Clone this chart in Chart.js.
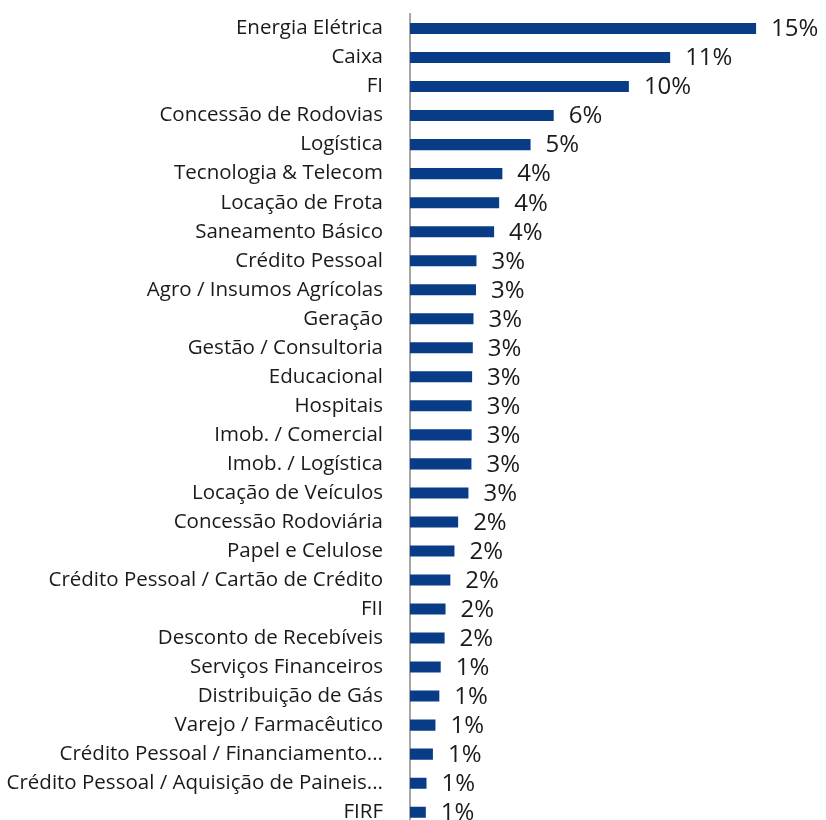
<!DOCTYPE html>
<html>
<head>
<meta charset="utf-8">
<script src="https://cdn.jsdelivr.net/npm/chart.js@4/dist/chart.umd.min.js"></script>
<style>
  html, body { margin: 0; padding: 0; background: #fff; overflow: hidden; }
  #wrap { position: relative; width: 826px; height: 839px; }
</style>
</head>
<body>
<div id="wrap"><canvas id="sectorChart"></canvas></div>
<script>
const sectors = [
  'Energia Elétrica', 'Caixa', 'FI', 'Concessão de Rodovias', 'Logística',
  'Tecnologia & Telecom', 'Locação de Frota', 'Saneamento Básico', 'Crédito Pessoal',
  'Agro / Insumos Agrícolas', 'Geração', 'Gestão / Consultoria', 'Educacional',
  'Hospitais', 'Imob. / Comercial', 'Imob. / Logística', 'Locação de Veículos',
  'Concessão Rodoviária', 'Papel e Celulose', 'Crédito Pessoal / Cartão de Crédito',
  'FII', 'Desconto de Recebíveis', 'Serviços Financeiros', 'Distribuição de Gás',
  'Varejo / Farmacêutico', 'Crédito Pessoal / Financiamento...',
  'Crédito Pessoal / Aquisição de Paineis...', 'FIRF'
];

const shares = [
  15.1, 11.35, 9.55, 6.27, 5.26, 4.03, 3.89, 3.67, 2.9, 2.88,
  2.77, 2.74, 2.71, 2.69, 2.69, 2.68, 2.55, 2.1, 1.94, 1.76,
  1.55, 1.51, 1.34, 1.28, 1.11, 1.0, 0.72, 0.69
];

const axisMax = 18.15;

// rótulos de valor à direita das barras
const valueLabelPlugin = {
  id: 'valueLabel',
  afterDatasetsDraw: (chart) => {
    const ctx = chart.ctx;
    const meta = chart.getDatasetMeta(0);
    ctx.save();
    ctx.font = '24px "Open Sans", sans-serif';
    ctx.fillStyle = '#1a1a1a';
    ctx.textAlign = 'left';
    ctx.textBaseline = 'middle';
    meta.data.forEach((bar, i) => {
      ctx.fillText(Math.round(shares[i]) + '%', bar.x + 15, bar.y + 1);
    });
    ctx.restore();
  }
};

window.addEventListener('DOMContentLoaded', () => {
  const ctx = document.getElementById('sectorChart').getContext('2d');
  new Chart(ctx, {
    type: 'bar',
    data: {
      labels: sectors,
      datasets: [{
        data: shares,
        backgroundColor: '#083c87',
        barPercentage: 0.76,
        categoryPercentage: 0.5
      }]
    },
    options: {
      indexAxis: 'y',
      responsive: true,
      maintainAspectRatio: false,
      animation: false,
      layout: { padding: { top: 14, right: 0, bottom: 0, left: 0 } },
      plugins: {
        legend: { display: false },
        tooltip: { enabled: false }
      },
      scales: {
        x: {
          display: false,
          min: 0,
          max: axisMax
        },
        y: {
          afterFit: (scale) => { scale.width = 410; },
          grid: { display: false, drawTicks: true, tickLength: 27 },
          border: { display: true, color: '#a6a6a6', width: 2 },
          ticks: {
            autoSkip: false,
            padding: 0,
            color: '#1a1a1a',
            font: { family: '"Open Sans", sans-serif', size: 20.5 }
          }
        }
      }
    },
    plugins: [valueLabelPlugin]
  });
});
</script>
</body>
</html>
